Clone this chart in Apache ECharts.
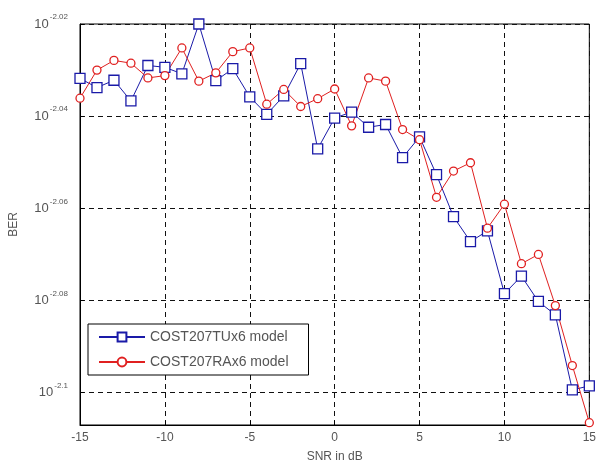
<!DOCTYPE html>
<html>
<head>
	<meta charset="utf-8">
	<script src="https://cdn.jsdelivr.net/npm/echarts@6/dist/echarts.min.js"></script>
	<style>
		html, body { margin: 0; padding: 0; background: #fff; }
		#chart { width: 599px; height: 468px; }
	</style>
</head>
<body>
	<div id="chart"></div>
	<script>
		// SNR in dB
		var snr = [-15,-14,-13,-12,-11,-10,-9,-8,-7,-6,-5,-4,-3,-2,-1,0,1,2,3,4,5,6,7,8,9,10,11,12,13,14,15];
		// log10(BER)
		var berTU = [-2.0318,-2.0338,-2.0322,-2.0367,-2.0290,-2.0294,-2.0308,-2.0200,-2.0323,-2.0297,-2.0358,-2.0396,-2.0356,-2.0286,-2.0471,-2.0404,
			-2.0391,-2.0424,-2.0418,-2.0490,-2.0445,-2.0527,-2.0618,-2.0672,-2.0649,-2.0785,-2.0747,-2.0802,-2.0831,-2.0994,-2.0985];
		var berRA = [-2.0361,-2.0300,-2.0279,-2.0285,-2.0317,-2.0312,-2.0252,-2.0324,-2.0306,-2.0260,-2.0252,-2.0374,-2.0342,-2.0379,-2.0362,-2.0341,
			-2.0421,-2.0317,-2.0324,-2.0429,-2.0451,-2.0576,-2.0519,-2.0501,-2.0643,-2.0591,-2.0720,-2.0700,-2.0811,-2.0941,-2.1065];
		var yTicks = [-2.1, -2.08, -2.06, -2.04, -2.02];

		function pairs(ys) {
			return snr.map(function(x, i){ return [x, ys[i]]; });
		}

		var dash = {type: [5, 4], color: '#111', width: 1};
		var chart = echarts.init(document.getElementById('chart'));
		chart.setOption({
			animation: false,
			backgroundColor: '#fff',
			grid: {left: 78, top: 24, right: 8, bottom: 41, show: true, borderColor: '#000', borderWidth: 1},
			legend: {
				orient: 'vertical', left: 88, top: 324,
				backgroundColor: '#fff', borderColor: '#000', borderWidth: 1,
				padding: [6, 20, 6, 10], itemWidth: 46, itemHeight: 11, itemGap: 11,
				textStyle: {fontSize: 14, color: '#555', fontFamily: 'Liberation Sans'},
				data: ['COST207TUx6 model', 'COST207RAx6 model']
			},
			xAxis: {
				type: 'value', min: -15, max: 15, interval: 5,
				name: 'SNR in dB', nameLocation: 'middle', nameGap: 26,
				nameTextStyle: {fontSize: 12, color: '#555', fontFamily: 'Liberation Sans'},
				axisLine: {onZero: false, lineStyle: {color: '#000'}},
				axisTick: {inside: true, length: 4, lineStyle: {color: '#000'}},
				axisLabel: {margin: 7, fontSize: 12, color: '#555', fontFamily: 'Liberation Sans'},
				splitLine: {show: true, lineStyle: dash}
			},
			yAxis: {
				type: 'value', min: -2.107, max: -2.02,
				name: 'BER', nameLocation: 'middle', nameGap: 60,
				nameTextStyle: {fontSize: 12, color: '#555', fontFamily: 'Liberation Sans'},
				axisLine: {onZero: false, lineStyle: {color: '#000'}},
				axisTick: {inside: true, length: 4, customValues: yTicks, lineStyle: {color: '#000'}},
				axisLabel: {
					customValues: yTicks, margin: 12, color: '#555', fontFamily: 'Liberation Sans',
					formatter: function(v){ return '{b|10}{s|' + v + '}'; },
					rich: {
						b: {fontSize: 13, color: '#555', lineHeight: 22, verticalAlign: 'middle'},
						s: {fontSize: 8, color: '#555', verticalAlign: 'top', padding: [0, 0, 0, 1]}
					}
				},
				splitLine: {show: true, lineStyle: dash}
			},
			series: [
				{
					name: 'COST207TUx6 model', type: 'line', data: pairs(berTU),
					symbol: 'rect', symbolSize: 10,
					lineStyle: {color: '#1a1aa8', width: 1},
					itemStyle: {color: '#fff', borderColor: '#1a1aa8', borderWidth: 1.3}
				},
				{
					name: 'COST207RAx6 model', type: 'line', data: pairs(berRA),
					symbol: 'circle', symbolSize: 8,
					lineStyle: {color: '#e02020', width: 1},
					itemStyle: {color: '#fff', borderColor: '#e02020', borderWidth: 1.3}
				}
			]
		});
	</script>
</body>
</html>
